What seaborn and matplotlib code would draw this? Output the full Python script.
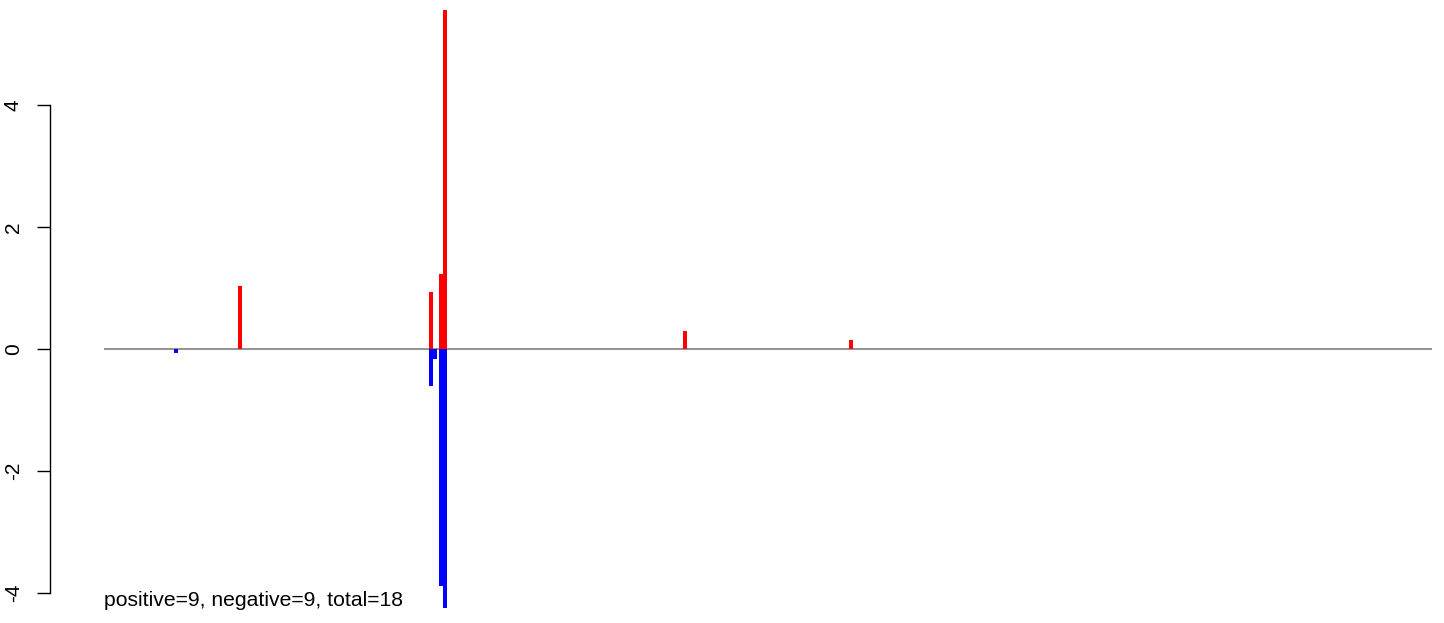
import matplotlib
matplotlib.use("Agg")
import matplotlib.pyplot as plt
import seaborn as sns
import pandas as pd

# bar positions (x units) and values
pos_x = [136, 327, 337, 341, 581, 747]
pos_val = [1.03, 0.93, 1.23, 5.55, 0.29, 0.15]
neg_x = [72, 327, 331, 337, 341]
neg_val = [-0.07, -0.60, -0.16, -3.88, -4.24]
x_start, x_end = 0, 1328
yticks = [-4, -2, 0, 2, 4]
note = "positive=9, negative=9, total=18"

df = pd.DataFrame({
    "x": pos_x + neg_x,
    "value": pos_val + neg_val,
    "sign": ["pos"] * len(pos_x) + ["neg"] * len(neg_x),
})

sns.set_style("white")
plt.rcParams["font.family"] = ["Liberation Sans", "DejaVu Sans"]
plt.rcParams["text.color"] = "black"
plt.rcParams["ytick.color"] = "black"

fig = plt.figure(figsize=(14.44, 6.23), dpi=100)
ax = fig.add_axes([50 / 1444, 0, 1394 / 1444, 1])

ax.hlines(0, x_start, x_end, color="#808080", lw=1.2, zorder=1)
sns.barplot(data=df, x="x", y="value", hue="sign",
            palette={"pos": "#ff0000", "neg": "#0000ff"},
            native_scale=True, dodge=False, width=1.0, errorbar=None,
            saturation=1, linewidth=0, legend=False, ax=ax, zorder=2)

ax.set_xlim(-54, 1340)
ax.set_ylim(-4.492, 5.721)
ax.set_xlabel("")
ax.set_ylabel("")
ax.set_xticks([])
ax.set_yticks(yticks)
ax.set_yticklabels([str(t) for t in yticks], rotation=90, va="center",
                   fontsize=15, color="black")
ax.tick_params(axis="y", length=9.5, width=1, color="black", pad=10, left=True)
for s in ["top", "right", "bottom"]:
    ax.spines[s].set_visible(False)
ax.spines["left"].set_bounds(-4, 4)
ax.spines["left"].set_color("black")
ax.spines["left"].set_linewidth(1)
ax.patch.set_alpha(0)

ax.text(0, -4.12, note, fontsize=15.2, ha="left", va="center", color="black")

fig.savefig("out.png", dpi=100)
